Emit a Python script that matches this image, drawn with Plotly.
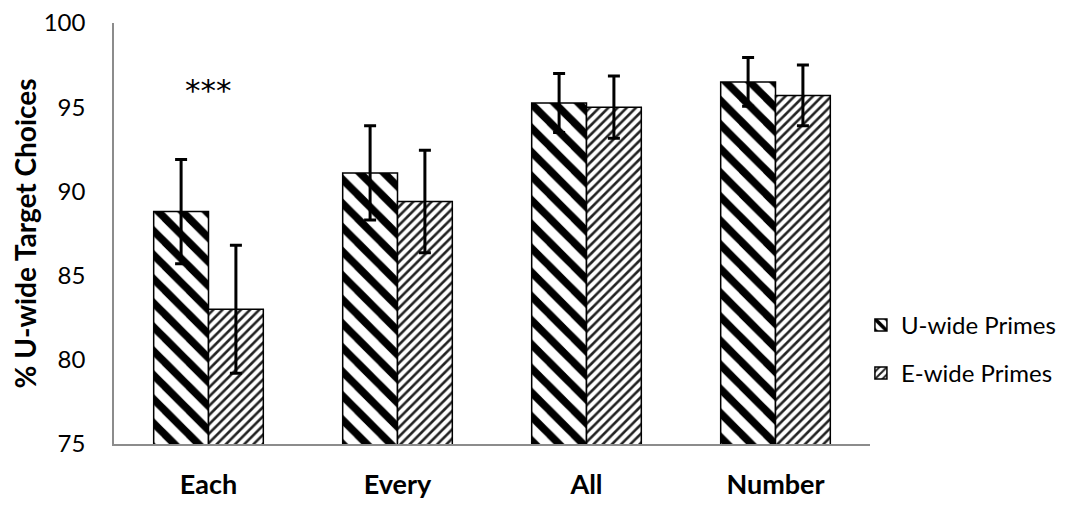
import plotly.graph_objects as go

categories = ["Each", "Every", "All", "Number"]
u_wide = [88.8, 91.1, 95.25, 96.5]
u_err = [3.1, 2.8, 1.75, 1.45]
e_wide = [83.0, 89.4, 95.0, 95.7]
e_err = [3.8, 3.05, 1.85, 1.8]
sig_label = "***"
sig_pos = ("Each", 96.0)

FONT = "Lato"

fig = go.Figure()
fig.add_trace(go.Bar(
    x=categories, y=u_wide, name="U-wide Primes",
    offsetgroup="u", legendgroup="u",
    marker=dict(color="white", line=dict(color="black", width=1.5),
                pattern=dict(shape="\\", size=17, solidity=0.45,
                             fgcolor="black", bgcolor="white", fgopacity=1)),
    error_y=dict(type="data", array=u_err, color="black", thickness=3, width=6),
))
fig.add_trace(go.Bar(
    x=categories, y=e_wide, name="E-wide Primes",
    offsetgroup="e", legendgroup="e",
    marker=dict(color="white", line=dict(color="black", width=1.5),
                pattern=dict(shape="/", size=6.5, solidity=0.4,
                             fgcolor="#222222", bgcolor="white", fgopacity=1)),
    error_y=dict(type="data", array=e_err, color="black", thickness=3, width=6),
))

fig.add_annotation(x=sig_pos[0], y=sig_pos[1], text=sig_label, showarrow=False,
                   font=dict(family="DejaVu Sans", size=31, color="black"))

fig.update_layout(
    width=1057, height=500,
    margin=dict(l=106, r=195, t=15, b=64, autoexpand=False),
    paper_bgcolor="white", plot_bgcolor="white",
    barmode="group", bargap=0.42, bargroupgap=0,
    font=dict(family=FONT, color="black"),
    showlegend=True,
    legend=dict(x=0.988, xanchor="left", y=0.225, yanchor="middle",
                font=dict(family=FONT, size=24, color="black"),
                tracegroupgap=14, itemwidth=30, bgcolor="rgba(0,0,0,0)"),
    xaxis=dict(showline=True, linecolor="#8c8c8c", linewidth=1.5,
               ticks="", showgrid=False, zeroline=False, automargin=False,
               tickfont=dict(family=FONT, size=27, color="black", weight="bold"),
               ticklabelstandoff=16),
    yaxis=dict(range=[75, 100], tickvals=[75, 80, 85, 90, 95, 100],
               showline=True, linecolor="#8c8c8c", linewidth=1.5,
               ticks="", showgrid=False, zeroline=False, automargin=False,
               ticklabeloverflow="allow",
               tickfont=dict(family=FONT, size=24, color="black"),
               ticklabelstandoff=22,
               title=dict(text="% U-wide Target Choices", standoff=10,
                          font=dict(family=FONT, size=28, color="black", weight="bold"))),
)

fig.write_html("out.html")
